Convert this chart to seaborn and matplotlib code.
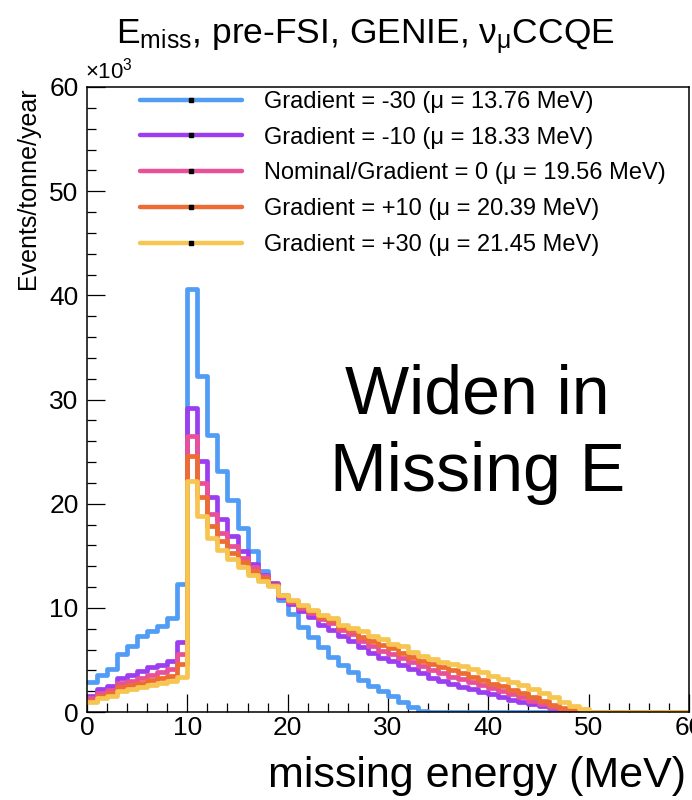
import numpy as np
import pandas as pd
import matplotlib
matplotlib.use("Agg")
import matplotlib.pyplot as plt
from matplotlib.lines import Line2D
from matplotlib.ticker import MultipleLocator
import seaborn as sns

# ---------------- data (events / tonne / year, in units of 10^3) ----------------
bin_edges = list(range(0, 61))  # 1 MeV bins, 0..60 MeV

grad_m30 = [2.85, 3.55, 4.1, 5.55, 6.35, 7.3, 7.8, 8.3, 9.0, 12.3,
            40.6, 32.3, 26.6, 23.1, 20.4, 17.7, 15.5, 13.5, 12.3, 10.8,
            9.4, 8.2, 7.2, 6.2, 5.3, 4.5, 3.8, 3.1, 2.5, 2.0,
            1.5, 1.0, 0.45, 0.05, 0, 0, 0, 0, 0, 0,
            0, 0, 0, 0, 0, 0, 0, 0, 0, 0,
            0, 0, 0, 0, 0, 0, 0, 0, 0, 0]
grad_m10 = [1.56, 2.2, 2.5, 3.3, 3.6, 3.9, 4.3, 4.5, 4.9, 6.7,
            29.2, 24.1, 20.6, 18.5, 16.9, 15.5, 14.2, 13.2, 12.4, 11.0,
            10.4, 9.7, 9.1, 8.4, 7.9, 7.3, 6.8, 6.2, 5.7, 5.2,
            4.9, 4.5, 4.1, 3.7, 3.3, 3.0, 2.7, 2.4, 2.2, 1.9,
            1.7, 1.4, 1.2, 1.0, 0.8, 0.55, 0.35, 0.15, 0.02, 0,
            0, 0, 0, 0, 0, 0, 0, 0, 0, 0]
grad_0 = [1.3, 1.8, 2.1, 2.8, 3.0, 3.3, 3.6, 3.8, 4.1, 5.6,
          26.5, 22.0, 19.0, 17.2, 15.9, 14.8, 13.9, 13.1, 12.2, 11.1,
          10.6, 10.0, 9.5, 8.9, 8.5, 7.9, 7.5, 6.8, 6.3, 5.9,
          5.6, 5.2, 4.8, 4.4, 4.0, 3.7, 3.4, 3.2, 2.9, 2.6,
          2.3, 2.0, 1.7, 1.4, 1.1, 0.8, 0.5, 0.25, 0.08, 0.02,
          0, 0, 0, 0, 0, 0, 0, 0, 0, 0]
grad_p10 = [1.1, 1.5, 1.8, 2.4, 2.6, 2.8, 3.1, 3.3, 3.5, 4.6,
            24.6, 20.6, 17.9, 16.4, 15.3, 14.4, 13.5, 12.9, 12.2, 11.2,
            10.7, 10.2, 9.7, 9.1, 8.8, 8.2, 7.9, 7.2, 6.8, 6.4,
            6.1, 5.7, 5.3, 4.9, 4.6, 4.3, 4.0, 3.7, 3.4, 3.1,
            2.7, 2.5, 2.1, 1.8, 1.4, 1.1, 0.7, 0.4, 0.15, 0.04,
            0, 0, 0, 0, 0, 0, 0, 0, 0, 0]
grad_p30 = [0.95, 1.3, 1.5, 2.0, 2.2, 2.4, 2.6, 2.8, 3.0, 3.4,
            22.2, 18.8, 16.7, 15.6, 14.7, 13.9, 13.2, 12.6, 12.1, 11.2,
            10.8, 10.3, 9.8, 9.3, 9.0, 8.4, 8.1, 7.8, 7.3, 7.0,
            6.5, 6.3, 5.8, 5.4, 5.1, 4.8, 4.6, 4.4, 4.1, 3.8,
            3.5, 3.2, 2.9, 2.6, 2.2, 1.8, 1.4, 1.0, 0.6, 0.25,
            0.03, 0.03, 0.03, 0.03, 0.03, 0.03, 0.03, 0.03, 0.03, 0.03]

series_labels = ["Gradient = -30 (\u03bc = 13.76 MeV)",
                 "Gradient = -10 (\u03bc = 18.33 MeV)",
                 "Nominal/Gradient = 0 (\u03bc = 19.56 MeV)",
                 "Gradient = +10 (\u03bc = 20.39 MeV)",
                 "Gradient = +30 (\u03bc = 21.45 MeV)"]
series_values = [grad_m30, grad_m10, grad_0, grad_p10, grad_p30]
series_colors = ["#519cf4", "#9b3ef0", "#e8509a", "#ec6c34", "#f6c552"]

x_ticks = [0, 10, 20, 30, 40, 50, 60]
y_ticks = [0, 10, 20, 30, 40, 50, 60]

# ---------------- style ----------------
sns.set_theme(style="ticks")
plt.rcParams['font.family'] = ['Liberation Sans', 'DejaVu Sans']
plt.rcParams['mathtext.fontset'] = 'custom'
plt.rcParams['mathtext.rm'] = 'Liberation Sans'
plt.rcParams['mathtext.it'] = 'Liberation Sans'
plt.rcParams['mathtext.bf'] = 'Liberation Sans:bold'
for k in ['text.color', 'axes.labelcolor', 'xtick.color', 'ytick.color', 'axes.edgecolor']:
    plt.rcParams[k] = 'black'

W, H = 692, 800
fig = plt.figure(figsize=(W / 100, H / 100), dpi=100)
ax = fig.add_axes([87 / W, 1 - 712 / H, (689 - 87) / W, (712 - 87) / H])

centers = [0.5 * (a + b) for a, b in zip(bin_edges[:-1], bin_edges[1:])]
for vals, col in zip(series_values, series_colors):
    df = pd.DataFrame({"E": centers, "w": vals})
    sns.histplot(data=df, x="E", weights="w", binwidth=1,
                 binrange=(bin_edges[0], bin_edges[-1]), element="step",
                 fill=False, color=col, linewidth=3.4, ax=ax)

ax.set_xlim(0, 60)
ax.set_ylim(0, 60)
ax.set_xlabel("")
ax.set_ylabel("")
ax.set_xticks(x_ticks)
ax.set_yticks(y_ticks)
ax.set_xticklabels([str(t) for t in x_ticks])
ax.set_yticklabels([str(t) for t in y_ticks])
ax.xaxis.set_minor_locator(MultipleLocator(2))
ax.yaxis.set_minor_locator(MultipleLocator(2))
ax.tick_params(axis="both", which="both", direction="in", colors="black",
               bottom=True, left=True, top=False, right=False)
ax.tick_params(axis="both", which="major", length=13, width=0.9, labelsize=19)
ax.tick_params(axis="both", which="minor", length=6.5, width=0.9)
ax.tick_params(axis="x", which="major", pad=3)
ax.tick_params(axis="y", which="major", pad=6)
for s in ax.spines.values():
    s.set_visible(True)
    s.set_color("black")
    s.set_linewidth(1.1)

# legend
handles = [Line2D([0], [0], color=c, lw=3.2, marker="s", markersize=3.2,
                  markerfacecolor="black", markeredgecolor="black")
           for c in series_colors]
ax.legend(handles, series_labels, loc="upper left",
          bbox_to_anchor=(140 / W, 1 - 91 / H), bbox_transform=fig.transFigure,
          frameon=False, fontsize=17, handlelength=4.3, handletextpad=0.95,
          labelspacing=0.58, borderpad=0, borderaxespad=0, numpoints=1)

# texts
fig.text(365 / W, 1 - 43 / H,
         r"E$_{\mathrm{miss}}$, pre-FSI, GENIE, $\mathrm{\nu}_{\mathrm{\mu}}$CCQE",
         ha="center", va="baseline", fontsize=25.5)
fig.text(85 / W, 1 - 78 / H, r"$\times$10$^{3}$", ha="left", va="baseline", fontsize=16)
fig.text(28 / W, 1 - 87 / H, "Events/tonne/year", rotation=90,
         ha="center", va="top", fontsize=18)
fig.text(686 / W, 1 - 787 / H, "missing energy (MeV)", ha="right",
         va="baseline", fontsize=31)
fig.text(477 / W, 1 - 413 / H, "Widen in", ha="center", va="baseline", fontsize=49)
fig.text(478 / W, 1 - 491 / H, "Missing E", ha="center", va="baseline", fontsize=49)

fig.savefig("out.png", dpi=100, facecolor="white")
